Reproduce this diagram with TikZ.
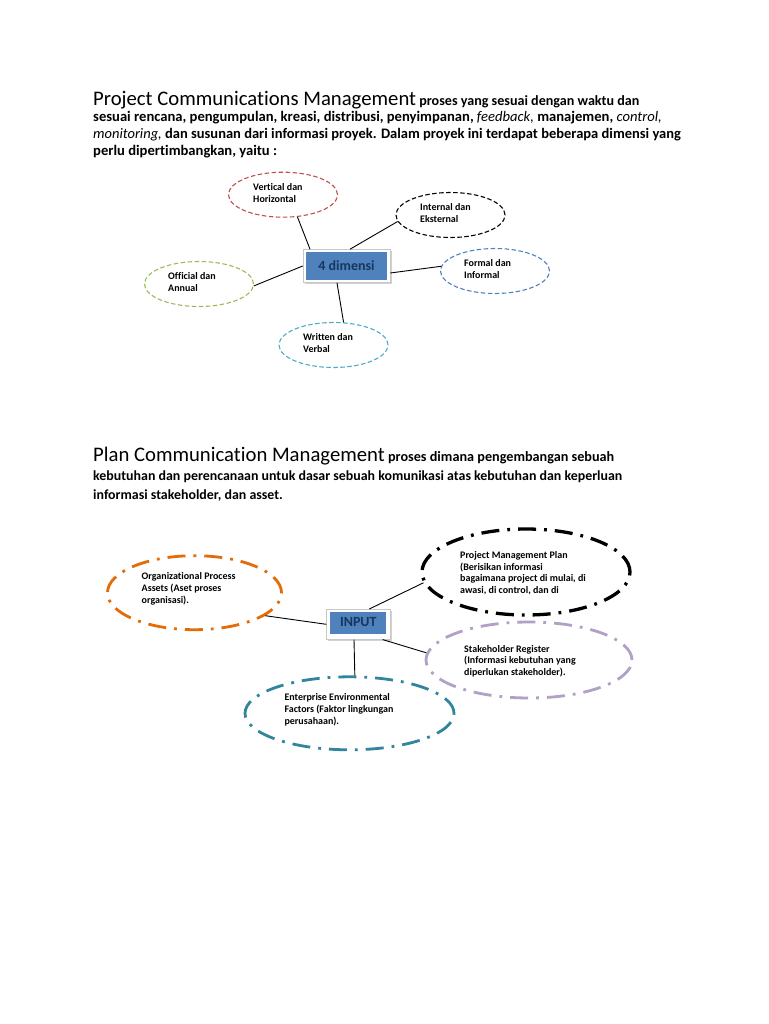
\documentclass[tikz,border=0pt]{standalone}
\usepackage{fontspec}
\setmainfont{Carlito}[Ligatures={NoCommon}]
\usetikzlibrary{shapes.geometric,shadows}
\definecolor{cred}{HTML}{C0504D}
\definecolor{cblue}{HTML}{4F81BD}
\definecolor{colive}{HTML}{9BBB59}
\definecolor{ccyan}{HTML}{4BACC6}
\definecolor{corange}{HTML}{E36C09}
\definecolor{cpurple}{HTML}{B2A1C7}
\definecolor{cteal}{HTML}{31859C}
\definecolor{navy}{HTML}{17365D}
\newcommand\hdfont{\fontsize{20.7}{24}\selectfont\mdseries}
\begin{document}
\begin{tikzpicture}[x=1pt,y=-1pt,
  pline/.style={anchor=base west,inner sep=0pt,font=\fontsize{14.6}{17}\selectfont\bfseries},
  qline/.style={anchor=base west,inner sep=0pt,font=\fontsize{13.9}{17}\selectfont\bfseries},
  etext/.style={anchor=north west,inner sep=0pt,align=left,font=\fontsize{10}{12}\selectfont\bfseries},
  dellipse/.style={ellipse,draw,dashed,dash pattern=on 4.5pt off 2.5pt,line width=1.1pt,minimum width=109pt,minimum height=45pt,inner sep=0pt},
  dotellipse/.style={ellipse,draw,line width=2.8pt,dash pattern=on 18pt off 8pt on 2.8pt off 8pt,inner sep=0pt},
  frame/.style={rectangle,draw=black!22,line width=0.6pt,fill=white,inner sep=0pt,drop shadow={shadow xshift=1.5pt,shadow yshift=-1.5pt,opacity=0.35}},
  inbox/.style={rectangle,fill=cblue,inner sep=0pt,text=navy,font=\fontsize{14}{16}\selectfont\bfseries},
  conn/.style={draw=black,line width=0.9pt}]
\useasboundingbox[fill=white] (0,0) rectangle (768,1024);

% ---------- paragraph 1 ----------
\node[pline,font=\fontsize{14.1}{17}\selectfont\bfseries] (t1) at (93,106) {{\hdfont Project Communications Management} proses yang sesuai dengan waktu dan};
\node[pline] (t2) at (93,122) {sesuai rencana, pengumpulan, kreasi, distribusi, penyimpanan, {\mdseries\itshape feedback,} manajemen, {\mdseries\itshape control,}};
\node[pline,font=\fontsize{14.5}{17}\selectfont\bfseries] (t3) at (93,139) {{\mdseries\itshape monitoring,} dan susunan dari informasi proyek. Dalam proyek ini terdapat beberapa dimensi yang};
\node[pline] (t4) at (93,156) {perlu dipertimbangkan, yaitu :};

% ---------- diagram 1 ----------
\node[dellipse,draw=cred] (vh) at (283,194.7) {};
\node[dellipse,draw=black] (ie) at (450.5,215) {};
\node[dellipse,draw=cblue] (fi) at (495,271) {};
\node[dellipse,draw=colive] (oa) at (199,284) {};
\node[dellipse,draw=ccyan] (wv) at (333.5,345) {};

\node[etext] (vht) at (253,183) {Vertical dan\\Horizontal};
\node[etext] (iet) at (420,203) {Internal dan\\Eksternal};
\node[etext] (fit) at (464,259) {Formal dan\\Informal};
\node[etext] (oat) at (168,272.5) {Official dan\\Annual};
\node[etext] (wvt) at (303,333) {Written dan\\Verbal};

\node[frame,minimum width=87pt,minimum height=33pt] (dimf) at (346.5,266) {};
\node[inbox,minimum width=81pt,minimum height=28pt] (dim) at (346.5,266) {4 dimensi};

\draw[conn] ([xshift=-36.5pt]dimf.north) -- (vh.-57.5);
\draw[conn] ([xshift=3.5pt]dimf.north) -- (ie.187.6);
\draw[conn] ([yshift=-7pt]dimf.east) -- (fi.175.7);
\draw[conn] (dimf.west) -- (oa.-2);
\draw[conn] ([xshift=-9.5pt]dimf.south) -- (wv.66.6);

% ---------- paragraph 2 ----------
\node[qline,font=\fontsize{14.2}{17}\selectfont\bfseries] (u1) at (93,461) {{\hdfont Plan Communication Management} proses dimana pengembangan sebuah};
\node[qline] (u2) at (93,480) {kebutuhan dan perencanaan untuk dasar sebuah komunikasi atas kebutuhan dan keperluan};
\node[qline] (u3) at (93,499) {informasi stakeholder, dan asset.};

% ---------- diagram 2 ----------
\node[dotellipse,draw=corange,minimum width=174pt,minimum height=74pt] (opa) at (194.5,592.7) {};
\node[dotellipse,draw=black,line width=3.3pt,minimum width=208pt,minimum height=86pt] (pmp) at (526,572) {};
\node[dotellipse,draw=cpurple,minimum width=206pt,minimum height=76pt] (sr) at (529,660) {};
\node[dotellipse,draw=cteal,minimum width=209pt,minimum height=73pt] (eef) at (349.5,713.3) {};

\node[etext,font=\fontsize{10}{12.2}\selectfont\bfseries] (opat) at (141.5,572) {Organizational Process\\Assets (Aset proses\\organisasi).};
\node[etext,font=\fontsize{10}{11.6}\selectfont\bfseries] (pmpt) at (460,551.5) {Project Management Plan\\(Berisikan informasi\\bagaimana project di mulai, di\\awasi, di control, dan di};
\node[etext,font=\fontsize{10}{11.6}\selectfont\bfseries] (srt) at (464,645) {Stakeholder Register\\(Informasi kebutuhan yang\\diperlukan stakeholder).};
\node[etext,font=\fontsize{10}{12.2}\selectfont\bfseries] (eeft) at (284.3,693) {Enterprise Environmental\\Factors (Faktor lingkungan\\perusahaan).};

\node[frame,minimum width=63.5pt,minimum height=30pt] (inpf) at (358.3,624.3) {};
\node[inbox,minimum width=56pt,minimum height=22pt] (inp) at (358.3,622.5) {INPUT};

\draw[conn] (inpf.west) -- (opa.-18.5);
\draw[conn] ([xshift=11pt]inpf.north) -- (pmp.186);
\draw[conn] ([xshift=24.4pt]inpf.south) -- (sr.176.6);
\draw[conn] ([xshift=-4.3pt]inpf.south) -- (eef.82.8);
\end{tikzpicture}
\end{document}
